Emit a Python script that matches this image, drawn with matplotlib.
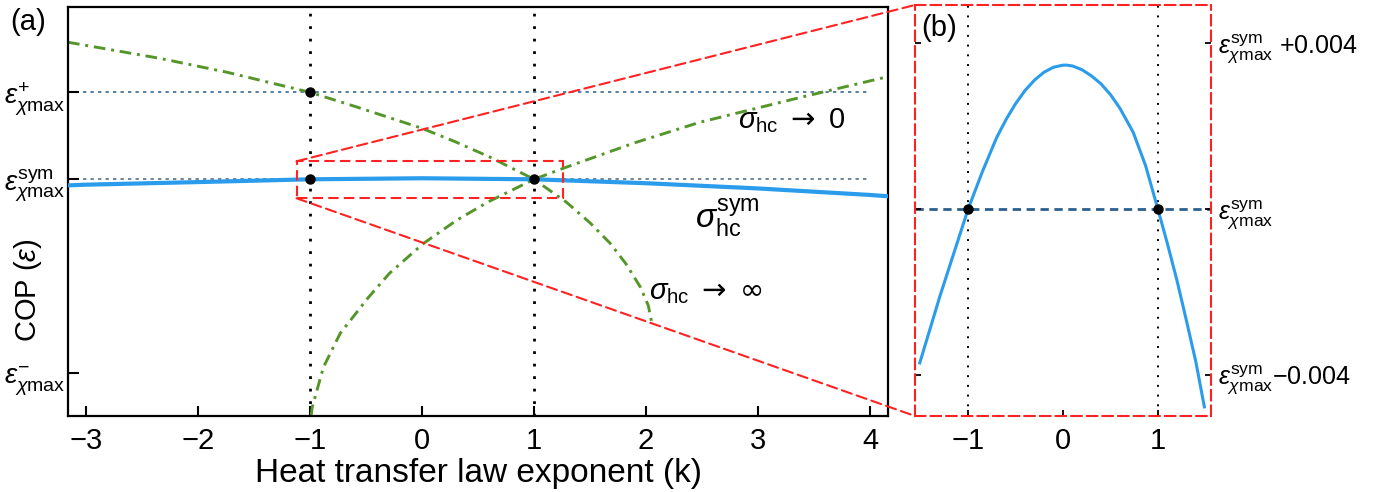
import matplotlib.pyplot as plt
from matplotlib.patches import Rectangle, ConnectionPatch

plt.rcParams['font.family'] = ['Liberation Sans', 'DejaVu Sans']
plt.rcParams['mathtext.fontset'] = 'custom'
plt.rcParams['mathtext.rm'] = 'Liberation Sans'
plt.rcParams['mathtext.it'] = 'Liberation Sans:italic'
plt.rcParams['mathtext.sf'] = 'DejaVu Sans'
plt.rcParams['mathtext.fallback'] = 'stixsans'

# main panel, COP in units where eps_sym = 0 and eps_plus = 1
eps_plus = 1.0
eps_sym = 0.0
eps_minus = -2.23

k_sym = [-3.16, -3.0, -2.0, -1.0, 0.0, 1.0, 2.0, 3.0, 4.0, 4.16]
cop_sym = [-0.07, -0.062, -0.032, 0.0, 0.012, 0.0, -0.045, -0.105, -0.18, -0.195]

k_inf = [-3.16, -2.34, -1.74, -1.0, -0.58, 0.0, 0.3, 0.61, 1.0, 1.29, 1.5, 1.68, 1.82, 1.95, 2.02, 2.05]
cop_inf = [1.575, 1.39, 1.23, 1.0, 0.83, 0.586, 0.43, 0.253, 0.0, -0.264, -0.5, -0.736, -0.97, -1.24, -1.45, -1.64]

k_zero = [-0.99, -0.98, -0.88, -0.73, -0.48, -0.29, 0.01, 0.31, 0.59, 1.0, 1.29, 1.9, 2.48, 3.375, 4.16]
cop_zero = [-2.72, -2.62, -2.16, -1.77, -1.36, -1.08, -0.74, -0.47, -0.26, 0.0, 0.14, 0.42, 0.655, 0.94, 1.18]

dot_k = [-1, -1, 1]
dot_cop = [eps_plus, eps_sym, eps_sym]

# inset, offset from eps_sym
k_in = [-1.51, -1.4, -1.3, -1.15, -1.0, -0.85, -0.7, -0.6, -0.5, -0.4, -0.3, -0.2, -0.1, 0.0, 0.04,
        0.1, 0.2, 0.3, 0.4, 0.5, 0.6, 0.74, 0.87, 1.0, 1.1, 1.2, 1.3, 1.4, 1.49]
d_in = [-0.00371, -0.00288, -0.00212, -0.00106, 0.0, 0.0009, 0.00172, 0.00216, 0.00254, 0.00286,
        0.00311, 0.00330, 0.00342, 0.00347, 0.00347, 0.00345, 0.00336, 0.00321, 0.00302, 0.00276,
        0.00243, 0.00185, 0.00105, 0.0, -0.00083, -0.00171, -0.00268, -0.00368, -0.00477]
in_dot_k = [-1, 1]
in_dot_d = [0.0, 0.0]

xticks_main = [-3, -2, -1, 0, 1, 2, 3, 4]
yticks_main = [eps_minus, eps_sym, eps_plus]
ylabels_main = [r'$\epsilon^{-}_{\chi\mathrm{max}}$', r'$\epsilon^{\mathrm{sym}}_{\chi\mathrm{max}}$',
                r'$\epsilon^{+}_{\chi\mathrm{max}}$']
yticks_in = [-0.004, 0.0, 0.004]
ylabels_in = [r'$\epsilon^{\mathrm{sym}}_{\chi\mathrm{max}}$' + '\u22120.004',
              r'$\epsilon^{\mathrm{sym}}_{\chi\mathrm{max}}$',
              r'$\epsilon^{\mathrm{sym}}_{\chi\mathrm{max}}$' + ' +0.004']

blue = '#2b9cec'
green = '#55962a'
red = '#ff2222'
hblue = '#3a6a96'

fig = plt.figure(figsize=(13.96, 4.92), dpi=100)
ax = fig.add_axes([68/1396, 76/492, 820/1396, 409/492])
axi = fig.add_axes([915/1396, 76/492, 296/1396, 411/492])

# ---- panel (a)
for kv in [-1, 1]:
    ax.axvline(kv, color='k', ls=(0, (1, 3.5)), lw=2, zorder=1)
ax.axhline(eps_plus, xmax=0.976, color=hblue, ls=(0, (2, 2.5)), lw=1.2, zorder=1)
ax.axhline(eps_sym, xmax=0.976, color='#56708a', ls=(0, (2, 2.5)), lw=1.2, zorder=1)
ax.plot(k_inf, cop_inf, color=green, ls=(0, (4, 2, 1, 2)), lw=2.1, zorder=2)
ax.plot(k_zero, cop_zero, color=green, ls=(0, (4, 2, 1, 2)), lw=2.1, zorder=2)
ax.plot(k_sym, cop_sym, color=blue, lw=3, zorder=3)
ax.plot(dot_k, dot_cop, 'ko', ms=6.5, zorder=5)

ax.add_patch(Rectangle((-1.12, -0.218), 2.38, 0.425, fill=False, ec=red,
                       ls=(0, (5, 2.5)), lw=1.5, zorder=4))

ax.text(3.30, 0.68, r'$\sigma_{\mathrm{hc}}\ \mathsf{\rightarrow}\ \mathrm{0}$', fontsize=21, ha='center', va='center')
ax.text(2.73, -0.45, r'$\sigma_{\mathrm{hc}}^{\mathrm{sym}}$', fontsize=24, ha='center', va='center')
ax.text(2.53, -1.30, r'$\sigma_{\mathrm{hc}}\ \mathsf{\rightarrow}\ \mathsf{\infty}$', fontsize=21, ha='center', va='center')

ax.set_xlim(-3.16, 4.16)
ax.set_ylim(-2.72, 1.98)
ax.set_xticks(xticks_main)
ax.set_xticklabels(['\u2212%d' % -v if v < 0 else '%d' % v for v in xticks_main])
ax.set_yticks(yticks_main)
ax.set_yticklabels(ylabels_main)
ax.tick_params(axis='x', direction='in', length=7, width=1.5, labelsize=21, pad=8)
ax.tick_params(axis='y', direction='in', length=8, width=1.5, labelsize=20, pad=2)
for s in ax.spines.values():
    s.set_linewidth(1.6)
ax.set_xlabel('Heat transfer law exponent (k)', fontsize=24, labelpad=2)
fig.text(28/1396, 1 - 290/492, r'COP ($\epsilon$)', fontsize=21, rotation=90, ha='center', va='center')
fig.text(10/1396, 1 - 22/492, '(a)', fontsize=21, ha='left', va='center')

# ---- panel (b)
for kv in [-1, 1]:
    axi.axvline(kv, color='k', ls=(0, (1, 4)), lw=1.4, zorder=1)
axi.axhline(0.0, color='#2d5f8c', ls=(0, (3, 2)), lw=2, zorder=1)
axi.plot(k_in, d_in, color=blue, lw=2.2, zorder=3)
axi.plot(in_dot_k, in_dot_d, 'ko', ms=6.5, zorder=5)
axi.set_xlim(-1.56, 1.56)
axi.set_ylim(-0.00499, 0.00492)
axi.set_xticks([-1, 0, 1])
axi.set_xticklabels(['\u22121', '0', '1'])
axi.set_yticks(yticks_in)
axi.set_yticklabels(ylabels_in)
axi.tick_params(axis='x', direction='in', length=4, width=1.3, labelsize=21, pad=8)
axi.tick_params(axis='y', direction='in', length=4, width=1.3, labelsize=18, pad=5,
                left=True, right=True, labelleft=False, labelright=True)
for s in axi.spines.values():
    s.set_edgecolor(red)
    s.set_linestyle((0, (5, 2.5)))
    s.set_linewidth(1.5)
axi.text(0.02, 0.944, '(b)', transform=axi.transAxes, fontsize=21, ha='left', va='center')

# connecting lines from the zoom box to the inset
for yb, ya in [(0.207, 1), (-0.218, 0)]:
    con = ConnectionPatch(xyA=(-1.12, yb), coordsA=ax.transData, xyB=(0, ya), coordsB=axi.transAxes,
                          color=red, ls=(0, (5, 2.5)), lw=1.5)
    fig.add_artist(con)

fig.savefig('out.png', dpi=100)
